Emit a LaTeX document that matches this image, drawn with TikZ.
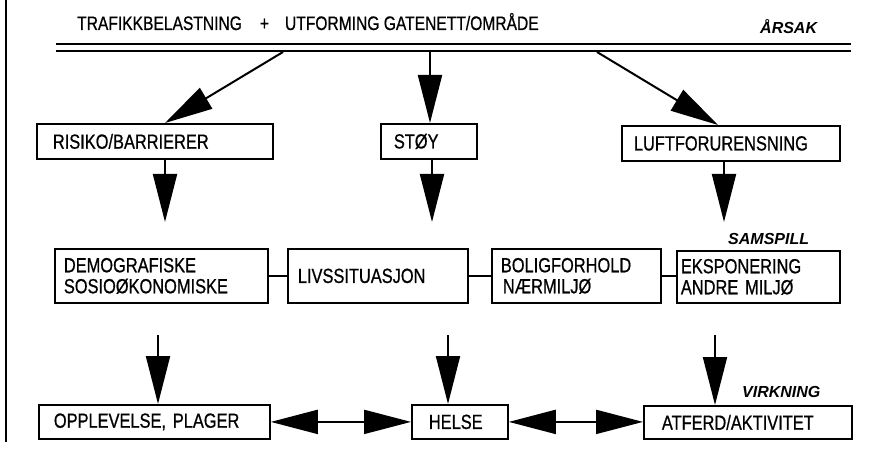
\documentclass[tikz,border=0pt]{standalone}
\usepackage{fontspec}
\setmainfont{Liberation Sans}
\newfontfamily\cond[FakeStretch=0.8,FakeBold=0.7]{Liberation Sans}
\usetikzlibrary{arrows.meta}
\begin{document}
\begin{tikzpicture}[x=1pt,y=-1pt,
  bx/.style={draw, line width=1.8pt, anchor=north west, align=left, inner ysep=0pt,
    font=\cond\fontsize{20.5}{21}\selectfont},
  toptext/.style={anchor=base west, inner sep=0pt, font=\cond\fontsize{19.5}{21}\selectfont},
  lab/.style={anchor=base west, inner sep=0pt, font=\bfseries\itshape\fontsize{16}{18}\selectfont},
  arr/.style={line width=2pt, -{Triangle[length=48pt,width=24pt]}},
  dbl/.style={line width=2pt, {Triangle[length=47pt,width=24pt]}-{Triangle[length=47pt,width=24pt]}},
  link/.style={line width=1.8pt},
  rule/.style={line width=2pt}]
\useasboundingbox (0,0) rectangle (872,449);
\fill[white] (0,0) rectangle (872,449);

% left margin line
\coordinate (m1) at (6,0);
\coordinate (m2) at (6,442);
\draw[rule] (m1) -- (m2);

% header
\node[toptext] (cause) at (77,30) {TRAFIKKBELASTNING\hspace{18pt}+\hspace{16pt}UTFORMING GATENETT/OMRÅDE};
\node[lab] (arsak) at (760,34) {ÅRSAK};
\coordinate (d1a) at (56,44);
\coordinate (d1b) at (851,44);
\coordinate (d2a) at (56,51);
\coordinate (d2b) at (851,51);
\draw[rule] (d1a) -- (d1b);
\draw[rule] (d2a) -- (d2b);

% first row
\node[bx, minimum height=35pt, text width=204pt, inner xsep=16pt] (risk) at (36,123) {RISIKO/BARRIERER};
\node[bx, minimum height=35pt, text width=70pt, inner xsep=13pt] (stoy) at (380,123) {STØY};
\node[bx, minimum height=35pt, text width=194pt, inner xsep=12pt] (luft) at (621,125) {LUFTFORURENSNING};

\coordinate (s1) at (283,52);
\coordinate (s2) at (430,52);
\coordinate (s3) at (597,52);
\draw[arr] (s1) -- ([xshift=129pt]risk.north west);
\draw[arr] (s2) -- (stoy.north -| s2);
\draw[arr] (s3) -- ([xshift=97pt]luft.north west);

\coordinate (t1) at (165,222);
\coordinate (t2) at (432,222);
\coordinate (t3) at (724,222);
\draw[arr] (risk.south -| t1) -- (t1);
\draw[arr] (stoy.south -| t2) -- (t2);
\draw[arr] (luft.south -| t3) -- (t3);

% second row
\node[lab] (samspill) at (728,244) {SAMSPILL};
\node[bx, minimum height=54pt, text width=195pt, inner xsep=9pt] (demo) at (54,248) {DEMOGRAFISKE\\SOSIOØKONOMISKE};
\node[bx, minimum height=54pt, text width=160pt, inner xsep=10pt] (livs) at (287,248) {LIVSSITUASJON};
\node[bx, minimum height=54pt, text width=151pt, inner xsep=9pt] (bolig) at (491,248) {BOLIGFORHOLD\\\hspace{2pt}NÆRMILJØ};
\node[bx, minimum height=52pt, text width=155pt, inner xsep=4pt] (eksp) at (676,250) {EKSPONERING\\ANDRE MILJØ};

\draw[link] (demo.east) -- (livs.west);
\draw[link] (livs.east) -- (bolig.west);
\draw[link] (bolig.east) -- (bolig.east -| eksp.west);

% third row
\node[lab] (virkning) at (742,397) {VIRKNING};
\node[bx, minimum height=34pt, text width=201pt, inner xsep=15pt] (opp) at (38,404) {OPPLEVELSE, PLAGER};
\node[bx, minimum height=34pt, text width=62pt, inner xsep=17pt] (helse) at (411,404) {HELSE};
\node[bx, minimum height=33pt, text width=172pt, inner xsep=18pt] (atferd) at (643,405) {ATFERD/AKTIVITET};

\coordinate (b1) at (158,335);
\coordinate (b2) at (448,335);
\coordinate (b3) at (715,335);
\draw[arr] (b1) -- (opp.north -| b1);
\draw[arr] (b2) -- (helse.north -| b2);
\draw[arr] (b3) -- (atferd.north -| b3);

\draw[dbl] (opp.east) -- (helse.west);
\draw[dbl] (helse.east) -- (helse.east -| atferd.west);
\end{tikzpicture}
\end{document}
